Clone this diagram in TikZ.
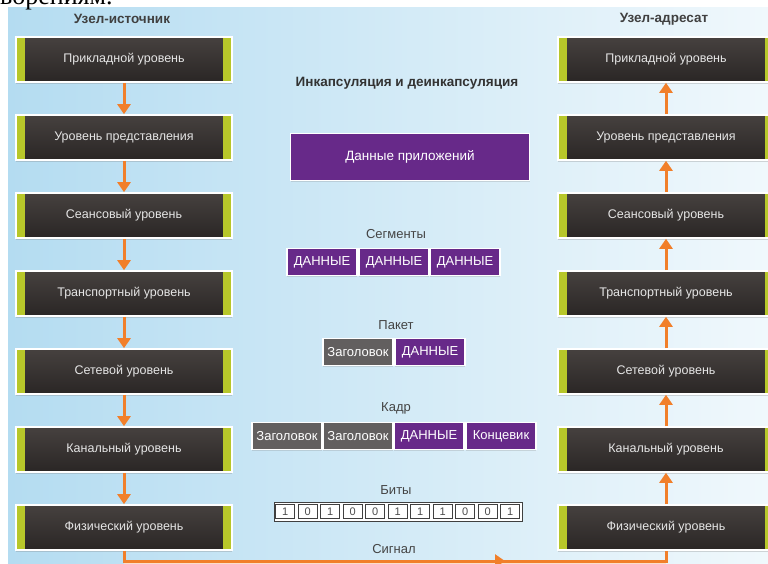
\documentclass[tikz,border=0pt]{standalone}
\usepackage{fontspec}
\setmainfont{Liberation Sans}
\newfontfamily\cutserif{Liberation Serif}
\usetikzlibrary{arrows.meta,shadows}

\definecolor{lvlgreen}{RGB}{183,199,42}
\definecolor{lvltop}{RGB}{70,65,63}
\definecolor{lvlbot}{RGB}{42,38,37}
\definecolor{pduviolet}{RGB}{103,41,137}
\definecolor{pdugray}{RGB}{98,95,95}
\definecolor{flowor}{RGB}{241,127,42}
\definecolor{bgleft}{RGB}{180,220,241}
\definecolor{bgmid}{RGB}{222,239,249}
\definecolor{bgright}{RGB}{240,248,252}
\definecolor{labelgray}{RGB}{68,68,68}

\tikzset{
  layer/.style={draw=white, line width=1.6pt, minimum width=216pt, minimum height=45pt,
    inner sep=0pt, top color=lvltop, bottom color=lvlbot, text=white!90!black,
    font=\fontsize{12.5}{13}\selectfont,
    drop shadow={shadow xshift=0pt, shadow yshift=-2pt, opacity=.3},
    path picture={
      \fill[lvlgreen] (path picture bounding box.south west) rectangle ([xshift=9pt]path picture bounding box.north west);
      \fill[lvlgreen] (path picture bounding box.south east) rectangle ([xshift=-9pt]path picture bounding box.north east);
    }},
  pdu/.style={draw=white, line width=1.2pt, minimum height=27pt, minimum width=70pt,
    inner sep=1pt, text=white, font=\fontsize{13}{13}\selectfont,
    drop shadow={shadow xshift=0pt, shadow yshift=-1.5pt, opacity=.25}},
  data/.style={pdu, fill=pduviolet},
  hdr/.style={pdu, fill=pdugray},
  bit/.style={draw=black!75, fill=white, line width=.8pt, minimum width=19pt, minimum height=14pt,
    inner sep=0pt, text=black!70, font=\fontsize{11}{11}\selectfont},
  caption/.style={text=labelgray, font=\fontsize{13}{13}\selectfont},
  side/.style={text=black!75, font=\bfseries\fontsize{13.5}{14}\selectfont},
  flow/.style={draw=flowor, line width=3pt},
  >={Triangle[width=13pt,length=10pt]}
}

\begin{document}
\begin{tikzpicture}[x=1pt,y=-1pt]
  \useasboundingbox (0,0) rectangle (768,564);
  \clip (0,0) rectangle (768,564);
  % background
  \shade[left color=bgleft, middle color=bgmid, right color=bgright] (8,8) rectangle (768,564);
  \node[font=\cutserif\fontsize{26}{26}\selectfont, anchor=base west, inner sep=0pt] (cut) at (0,5) {ворениям.};

  \node[side] at (122,19) (srchead) {Узел-источник};
  \node[side] at (664,19) (dsthead) {Узел-адресат};

  % OSI layers, both hosts
  \foreach \i/\t in {0/Прикладной уровень, 1/Уровень представления, 2/Сеансовый уровень,
      3/Транспортный уровень, 4/Сетевой уровень, 5/Канальный уровень, 6/Физический уровень} {%
    \node[layer] at (124,{59.5+78*\i}) (src\i) {\t};%
    \node[layer] at (666,{59.5+78*\i}) (dst\i) {\t};%
  };%
  \foreach \i in {0,...,5} {%
    \pgfmathtruncatemacro{\j}{\i+1}%
    \draw[flow,->] (src\i) -- (src\j);%
    \draw[flow,->] (dst\j) -- (dst\i);%
  };%

  % signal between the hosts
  \coordinate (sigL) at (124,561);
  \coordinate (sigM) at (505,561);
  \coordinate (sigR) at (666,561);
  \fill[flowor!25] (124,561) rectangle (666,566);
  \draw[flow] (src6) -- (sigL) -- (sigR) -- (dst6);
  \draw[flow,->] (sigL) -- (sigM);

  % encapsulation column
  \node[text=black!80, font=\bfseries\fontsize{13.5}{14}\selectfont] at (407,83) (title) {Инкапсуляция и деинкапсуляция};
  \node[data, minimum width=239pt, minimum height=47pt, font=\fontsize{13.5}{14}\selectfont] at (410,157) (appdata) {Данные приложений};

  \node[caption] at (396,234) (segcap) {Сегменты};
  \foreach \n/\x in {1/322, 2/394, 3/465} {%
    \node[data] at (\x,262) (seg\n) {ДАННЫЕ};%
  };%

  \node[caption] at (396,325) (pktcap) {Пакет};
  \node[hdr] at (358,352) (pkthdr) {Заголовок};
  \node[data] at (430,352) (pktdata) {ДАННЫЕ};

  \node[caption] at (396,408) (frmcap) {Кадр};
  \node[hdr] at (287,436) (frmhdr1) {Заголовок};
  \node[hdr] at (358,436) (frmhdr2) {Заголовок};
  \node[data] at (429,436) (frmdata) {ДАННЫЕ};
  \node[data] at (501,436) (frmtrl) {Концевик};

  \node[caption] at (396,490) (bitcap) {Биты};
  \fill[white, draw=black!75, line width=.8pt] (274,502) rectangle (522,521);
  \foreach \b [count=\k from 0] in {1,0,1,0,0,1,1,1,0,0,1} {%
    \node[bit] at ({285.3+22.5*\k},511.5) (bit\k) {\b};%
  };%

  \node[caption] at (394,549) (sigcap) {Сигнал};
\end{tikzpicture}
\end{document}
